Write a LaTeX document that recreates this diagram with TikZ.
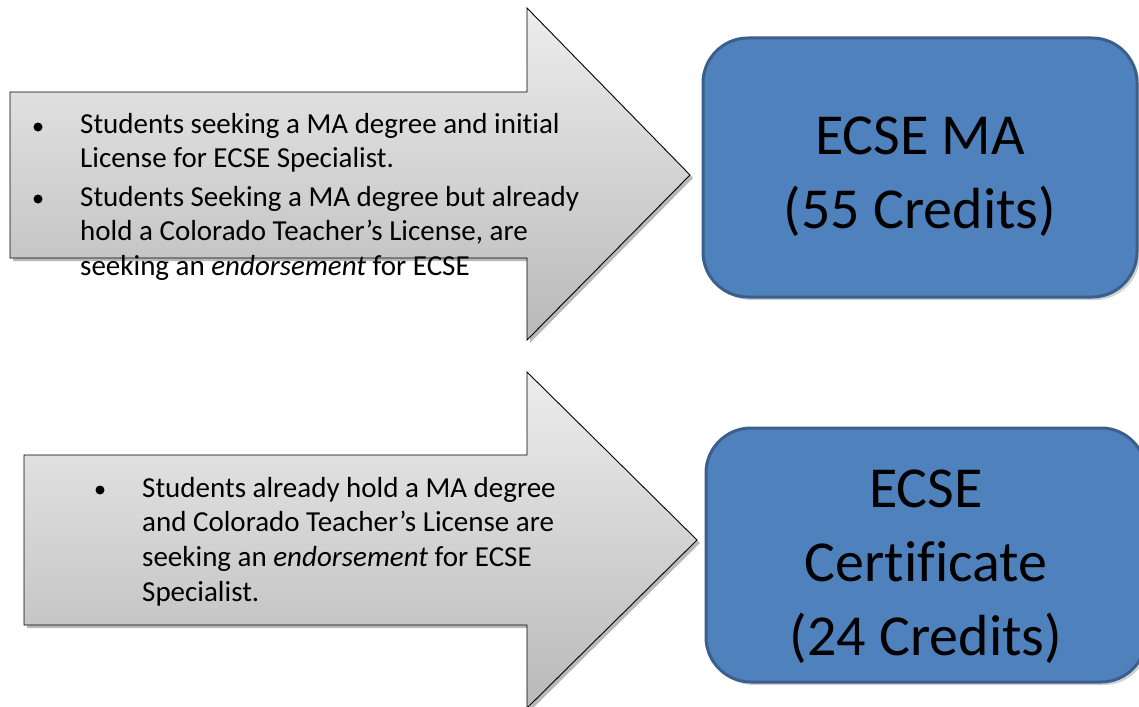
\documentclass[tikz,border=0pt]{standalone}
\usepackage{fontspec}
\setmainfont{Carlito}[Ligatures=CommonOff]
\definecolor{boxfill}{HTML}{4F81BD}
\definecolor{boxborder}{HTML}{3A5F8D}
\definecolor{arrowtop}{HTML}{EDEDED}
\definecolor{arrowbot}{HTML}{B9B9B9}
\tikzset{
  arrowshape/.style={draw=black, line width=0.9pt, line join=miter, top color=arrowtop, bottom color=arrowbot},
  shadowshape/.style={fill=black, opacity=0.28},
  itemtxt/.style={font=\fontsize{29}{34}\selectfont, anchor=base west, inner sep=0pt},
  bul/.style={circle, fill=black, minimum size=9pt, inner sep=0pt},
  progbox/.style={draw=boxborder, line width=3pt, fill=boxfill, rounded corners=45pt, inner sep=0pt},
  bigtxt/.style={align=center, font=\fontsize{58}{74}\selectfont, inner sep=0pt},
  boxshadow/.style={fill=black, opacity=0.18, rounded corners=45pt}
}
\begin{document}
\begin{tikzpicture}[x=1pt,y=-1pt]
\useasboundingbox (0,0) rectangle (1139,706);
% ---- arrow 1 ----
\fill[shadowshape] (13,95) -- (530,95) -- (530,11) -- (693,178) -- (530,343) -- (530,261) -- (13,261) -- cycle;
\draw[arrowshape] (10,92) -- (527,92) -- (527,8) -- (690,175) -- (527,340) -- (527,258) -- (10,258) -- cycle;
\node[bul] (b11) at (38,127) {};
\node[itemtxt] (t11) at (80,133) {Students seeking a MA degree and initial};
\node[itemtxt] (t12) at (80,167) {License for ECSE Specialist.};
\node[bul] (b12) at (38,199) {};
\node[itemtxt] (t13) at (80,206) {Students Seeking a MA degree but already};
\node[itemtxt] (t14) at (80,240) {hold a Colorado Teacher’s License, are};
\node[itemtxt] (t15) at (80,275) {seeking an \textit{endorsement} for ECSE};
% ---- arrow 2 ----
\fill[shadowshape] (27,458) -- (530,458) -- (530,375) -- (700,543) -- (530,711) -- (530,628) -- (27,628) -- cycle;
\draw[arrowshape] (24,455) -- (527,455) -- (527,372) -- (697,540) -- (527,708) -- (527,625) -- (24,625) -- cycle;
\node[bul] (b21) at (100,490) {};
\node[itemtxt] (t21) at (142,497) {Students already hold a MA degree};
\node[itemtxt] (t22) at (142,531) {and Colorado Teacher’s License are};
\node[itemtxt] (t23) at (142,566) {seeking an \textit{endorsement} for ECSE};
\node[itemtxt] (t24) at (142,601) {Specialist.};
% ---- boxes ----
\fill[boxshadow] (706,41) rectangle (1140,300);
\node[progbox, minimum width=434pt, minimum height=259pt] (box1) at (920,167.5) {};
\node[bigtxt] (l1) at ([yshift=-9pt]box1.center) {ECSE MA\\(55 Credits)};
\fill[boxshadow] (709,431) rectangle (1149,685);
\node[progbox, minimum width=440pt, minimum height=254pt] (box2) at (926,555) {};
\node[bigtxt] (l2) at ([yshift=-12pt]box2.center) {ECSE\\Certificate\\(24 Credits)};
\end{tikzpicture}
\end{document}
